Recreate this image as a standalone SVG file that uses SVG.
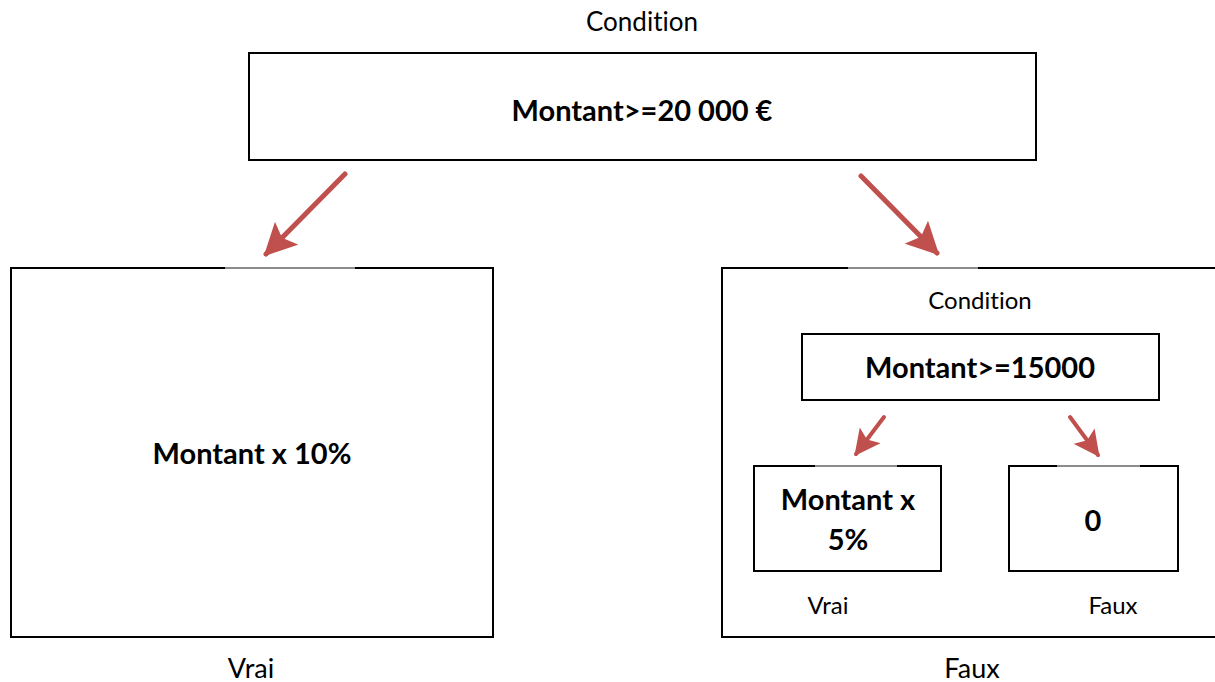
<svg xmlns="http://www.w3.org/2000/svg" width="1215" height="682" viewBox="0 0 1215 682">
<defs>
<style>
.box{fill:#fff;stroke:#000;stroke-width:2}
.gap{stroke:#8c8c8c;stroke-width:2}
.t{font-family:Lato,"Open Sans",sans-serif;fill:#000;text-anchor:middle;font-variant-ligatures:none}
.b{font-weight:bold}
.arr{stroke:#c0504d;fill:none;stroke-linecap:round}
</style>
<marker id="ah" viewBox="0 0 10 10" refX="9" refY="5" markerWidth="6.5" markerHeight="6.5" orient="auto" markerUnits="strokeWidth">
<path d="M0,0 L10,5 L0,10 L2,5 Z" fill="#c0504d"/>
</marker>
</defs>
<rect width="1215" height="682" fill="#fff"/>
<text class="t" x="642" y="31" font-size="26">Condition</text>
<g id="top">
<rect class="box" x="249" y="53" width="787" height="107"/>
<text class="t b" x="642" y="121" font-size="29">Montant&gt;=20 000 €</text>
</g>
<g id="left">
<rect class="box" x="11" y="268" width="482" height="369"/>
<line class="gap" x1="225" y1="268" x2="355" y2="268"/>
<text class="t b" x="252" y="464" font-size="29">Montant x 10%</text>
</g>
<text class="t" x="251" y="678" font-size="27">Vrai</text>
<g id="right">
<rect class="box" x="722" y="268" width="500" height="369"/>
<line class="gap" x1="848" y1="268" x2="978" y2="268"/>
<text class="t" x="980" y="309" font-size="24">Condition</text>
</g>
<text class="t" x="972" y="678" font-size="27">Faux</text>
<g id="inner">
<rect class="box" x="802" y="334" width="357" height="66"/>
<text class="t b" x="980" y="378" font-size="29">Montant&gt;=15000</text>
</g>
<g id="vraiBox">
<rect class="box" x="754" y="466" width="187" height="105"/>
<line class="gap" x1="815" y1="466" x2="897" y2="466"/>
<text class="t b" x="848" y="510" font-size="29">Montant x</text>
<text class="t b" x="848" y="550" font-size="29">5%</text>
</g>
<text class="t" x="828" y="614" font-size="24">Vrai</text>
<g id="fauxBox">
<rect class="box" x="1009" y="466" width="169" height="105"/>
<line class="gap" x1="1057" y1="466" x2="1140" y2="466"/>
<text class="t b" x="1093" y="531" font-size="29">0</text>
</g>
<text class="t" x="1113" y="614" font-size="24">Faux</text>
<g id="connectors">
<line class="arr" x1="345" y1="174" x2="266" y2="254" stroke-width="5" marker-end="url(#ah)"/>
<line class="arr" x1="861" y1="176" x2="937" y2="253" stroke-width="5" marker-end="url(#ah)"/>
<line class="arr" x1="884" y1="417" x2="856" y2="454" stroke-width="4" marker-end="url(#ah)"/>
<line class="arr" x1="1070" y1="417" x2="1098" y2="455" stroke-width="4" marker-end="url(#ah)"/>
</g>
</svg>
